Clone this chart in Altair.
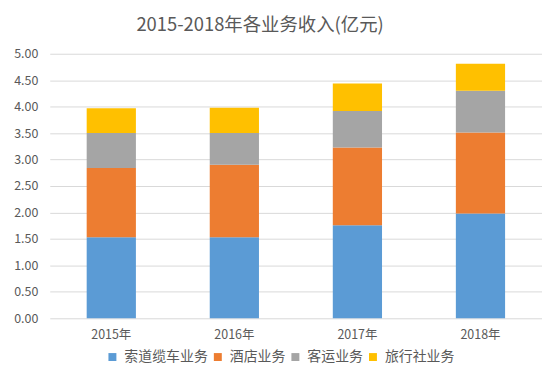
import altair as alt
import pandas as pd

years = ["2015年", "2016年", "2017年", "2018年"]
series = ["索道缆车业务", "酒店业务", "客运业务", "旅行社业务"]
colors = ["#5B9BD5", "#ED7D31", "#A5A5A5", "#FFC000"]
values = {
    "索道缆车业务": [1.53, 1.53, 1.76, 1.98],
    "酒店业务": [1.31, 1.37, 1.47, 1.53],
    "客运业务": [0.66, 0.60, 0.69, 0.79],
    "旅行社业务": [0.47, 0.48, 0.52, 0.51],
}
y_ticks = [0, 0.5, 1.0, 1.5, 2.0, 2.5, 3.0, 3.5, 4.0, 4.5, 5.0]

rows = []
for si, s in enumerate(series):
    for yi, yr in enumerate(years):
        rows.append({"year": yr, "series": s, "value": values[s][yi], "order": si})
df = pd.DataFrame(rows)

FONT = "Noto Sans CJK SC"

chart = alt.Chart(df).mark_bar().encode(
    x=alt.X("year:N", sort=years, title=None,
            scale=alt.Scale(paddingInner=0.6, paddingOuter=0.3),
            axis=alt.Axis(labelAngle=0, ticks=False, domain=False,
                          labelFontSize=12.5, labelColor="#595959", labelPadding=10)),
    y=alt.Y("value:Q", title=None, stack="zero",
            scale=alt.Scale(domain=[0, 5], nice=False),
            axis=alt.Axis(values=y_ticks, format=".2f", ticks=False, domain=False,
                          labelFontSize=12.5, labelColor="#595959", labelPadding=12,
                          gridColor="#D9D9D9")),
    color=alt.Color("series:N", sort=series,
                    scale=alt.Scale(domain=series, range=colors),
                    legend=alt.Legend(title=None, orient="none", direction="horizontal",
                                      legendX=56, legendY=298, symbolType="square",
                                      symbolSize=64, symbolStrokeWidth=0,
                                      labelFontSize=14, labelColor="#595959",
                                      labelOffset=5, columnPadding=3)),
    order=alt.Order("order:Q", sort="ascending"),
).properties(
    width=495,
    height=266,
    title=alt.TitleParams("2015-2018年各业务收入(亿元)", fontSize=18.5, color="#595959",
                          fontWeight="normal", anchor="middle", dx=-36, offset=13),
    autosize=alt.AutoSizeParams(type="none"),
    padding={"left": 42, "top": 45, "right": 0, "bottom": 50},
).configure(font=FONT).configure_view(stroke=None)

chart.save("out.html", embed_options={"renderer": "svg", "actions": False})
